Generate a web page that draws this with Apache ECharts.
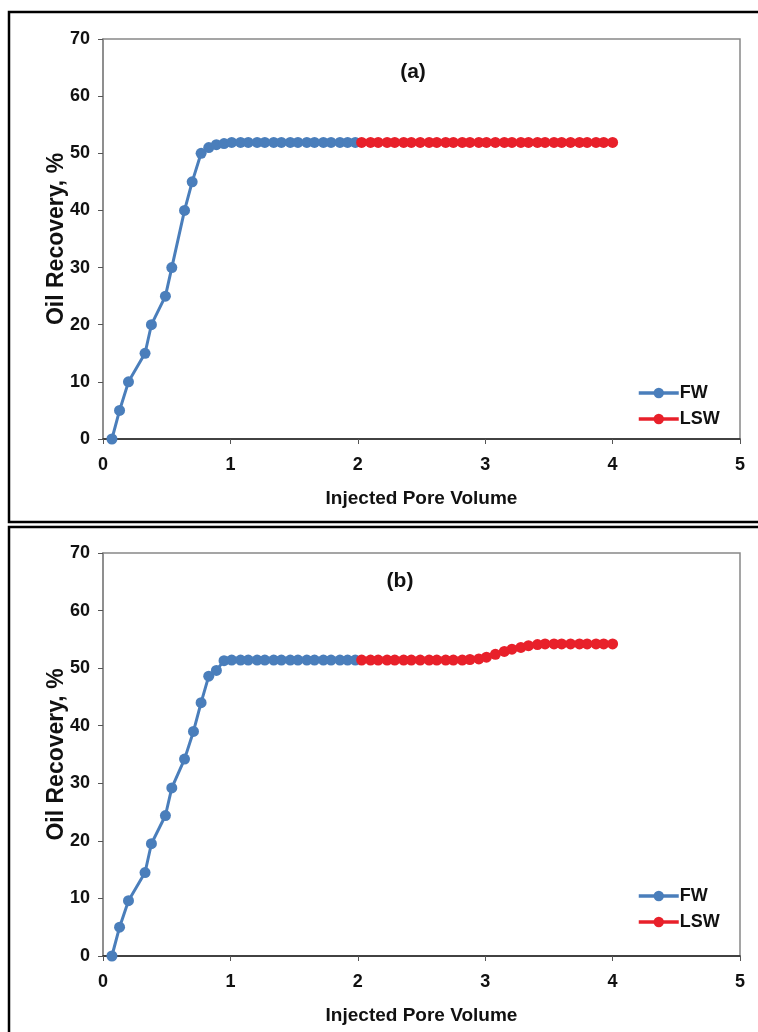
<!DOCTYPE html>
<html>
<head>
    <meta charset="utf-8"/>
    <title>Oil Recovery - FW / LSW</title>
    <script src="https://cdn.jsdelivr.net/npm/echarts@6/dist/echarts.min.js"></script>
    <style>
        html, body { margin: 0; padding: 0; background: #fff; }
        #chart { width: 758px; height: 1032px; }
    </style>
</head>
<body>
<div id="chart"></div>
<script>
    // 数据 (a)
    var fwAx = [0.07, 0.13, 0.2, 0.33, 0.38, 0.49, 0.54, 0.64, 0.7, 0.77, 0.83, 0.89, 0.95, 1.01, 1.08, 1.14, 1.21, 1.27, 1.34, 1.4, 1.47, 1.53, 1.6, 1.66, 1.73, 1.79, 1.86, 1.92, 1.98];
    var fwAy = [0, 5, 10, 15, 20, 25, 30, 40, 45, 50, 51, 51.5, 51.7, 51.9, 51.9, 51.9, 51.9, 51.9, 51.9, 51.9, 51.9, 51.9, 51.9, 51.9, 51.9, 51.9, 51.9, 51.9, 51.9];
    var lswAx = [2.03, 2.1, 2.16, 2.23, 2.29, 2.36, 2.42, 2.49, 2.56, 2.62, 2.69, 2.75, 2.82, 2.88, 2.95, 3.01, 3.08, 3.15, 3.21, 3.28, 3.34, 3.41, 3.47, 3.54, 3.6, 3.67, 3.74, 3.8, 3.87, 3.93, 4.0];
    var lswAy = [51.9, 51.9, 51.9, 51.9, 51.9, 51.9, 51.9, 51.9, 51.9, 51.9, 51.9, 51.9, 51.9, 51.9, 51.9, 51.9, 51.9, 51.9, 51.9, 51.9, 51.9, 51.9, 51.9, 51.9, 51.9, 51.9, 51.9, 51.9, 51.9, 51.9, 51.9];

    // 数据 (b)
    var fwBx = [0.07, 0.13, 0.2, 0.33, 0.38, 0.49, 0.54, 0.64, 0.71, 0.77, 0.83, 0.89, 0.95, 1.01, 1.08, 1.14, 1.21, 1.27, 1.34, 1.4, 1.47, 1.53, 1.6, 1.66, 1.73, 1.79, 1.86, 1.92, 1.98];
    var fwBy = [0, 5, 9.6, 14.5, 19.5, 24.4, 29.2, 34.2, 39, 44, 48.6, 49.6, 51.3, 51.4, 51.4, 51.4, 51.4, 51.4, 51.4, 51.4, 51.4, 51.4, 51.4, 51.4, 51.4, 51.4, 51.4, 51.4, 51.4];
    var lswBx = [2.03, 2.1, 2.16, 2.23, 2.29, 2.36, 2.42, 2.49, 2.56, 2.62, 2.69, 2.75, 2.82, 2.88, 2.95, 3.01, 3.08, 3.15, 3.21, 3.28, 3.34, 3.41, 3.47, 3.54, 3.6, 3.67, 3.74, 3.8, 3.87, 3.93, 4.0];
    var lswBy = [51.4, 51.4, 51.4, 51.4, 51.4, 51.4, 51.4, 51.4, 51.4, 51.4, 51.4, 51.4, 51.4, 51.5, 51.6, 51.9, 52.4, 52.9, 53.3, 53.6, 53.9, 54.1, 54.2, 54.2, 54.2, 54.2, 54.2, 54.2, 54.2, 54.2, 54.2];

    var xTicks = [0, 1, 2, 3, 4, 5];
    var yTicks = [0, 10, 20, 30, 40, 50, 60, 70];
    var panelTitles = ['(a)', '(b)'];

    var colors = ['#4a7ebb', '#e8202a'];
    var font = "'Liberation Sans', Arial, sans-serif";

    var zip = function (xs, ys) {
        return xs.map(function (x, i) { return [x, ys[i]]; });
    };

    var makeX = function (idx) {
        return {
            type: 'value', gridIndex: idx,
            min: xTicks[0], max: xTicks[xTicks.length - 1], interval: 1,
            name: 'Injected Pore Volume', nameLocation: 'middle', nameGap: 50,
            nameMoveOverlap: false,
            nameTextStyle: { fontFamily: font, fontWeight: 'bold', fontSize: 19, color: '#111' },
            axisLine: { show: true, lineStyle: { color: '#222', width: 1.5 } },
            axisTick: { show: true, inside: false, length: 5, lineStyle: { color: '#555' } },
            axisLabel: { margin: 17, fontFamily: font, fontWeight: 'bold', fontSize: 18, color: '#111' },
            splitLine: { show: false }
        };
    };
    var makeY = function (idx) {
        return {
            type: 'value', gridIndex: idx,
            min: yTicks[0], max: yTicks[yTicks.length - 1], interval: 10,
            name: 'Oil Recovery, %', nameLocation: 'middle', nameGap: 35,
            nameMoveOverlap: false,
            nameTextStyle: { fontFamily: font, fontWeight: 'bold', fontSize: 23, color: '#111' },
            axisLine: { show: true, lineStyle: { color: '#888', width: 1.5 } },
            axisTick: { show: true, inside: false, length: 5, lineStyle: { color: '#555' } },
            axisLabel: { margin: 13, fontFamily: font, fontWeight: 'bold', fontSize: 18, color: '#111' },
            splitLine: { show: false }
        };
    };
    var makeSeries = function (name, data, idx, color) {
        return {
            name: name, type: 'line', xAxisIndex: idx, yAxisIndex: idx,
            data: data, symbol: 'circle', symbolSize: 11, showSymbol: true,
            lineStyle: { color: color, width: 3 },
            itemStyle: { color: color },
            animation: false
        };
    };
    var makeLegend = function (top) {
        return {
            orient: 'vertical', left: 632, top: top, itemGap: 8,
            itemWidth: 40, itemHeight: 13,
            lineStyle: { width: 3.5 },
            textStyle: { fontFamily: font, fontWeight: 'bold', fontSize: 18, color: '#111', padding: [0, 0, 0, -4] },
            data: ['FW', 'LSW']
        };
    };

    var chart = echarts.init(document.getElementById('chart'));
    chart.setOption({
        animation: false,
        grid: [
            { left: 103, top: 39, width: 637, height: 400, show: true, borderColor: '#888', borderWidth: 1.5, backgroundColor: '#fff' },
            { left: 103, top: 553, width: 637, height: 403, show: true, borderColor: '#888', borderWidth: 1.5, backgroundColor: '#fff' }
        ],
        xAxis: [makeX(0), makeX(1)],
        yAxis: [makeY(0), makeY(1)],
        legend: [makeLegend(379), makeLegend(882)],
        graphic: [
            { type: 'rect', z: -10, shape: { x: 9, y: 12, width: 760, height: 510 }, style: { fill: 'none', stroke: '#000', lineWidth: 2.5 } },
            { type: 'rect', z: -10, shape: { x: 9, y: 527, width: 760, height: 520 }, style: { fill: 'none', stroke: '#000', lineWidth: 2.5 } },
            { type: 'text', x: 413, y: 72, style: { text: panelTitles[0], textAlign: 'center', textVerticalAlign: 'middle', font: 'bold 21px ' + font, fill: '#111' } },
            { type: 'text', x: 400, y: 581, style: { text: panelTitles[1], textAlign: 'center', textVerticalAlign: 'middle', font: 'bold 21px ' + font, fill: '#111' } }
        ],
        series: [
            makeSeries('FW', zip(fwAx, fwAy), 0, colors[0]),
            makeSeries('LSW', zip(lswAx, lswAy), 0, colors[1]),
            makeSeries('FW', zip(fwBx, fwBy), 1, colors[0]),
            makeSeries('LSW', zip(lswBx, lswBy), 1, colors[1])
        ]
    });
</script>
</body>
</html>
